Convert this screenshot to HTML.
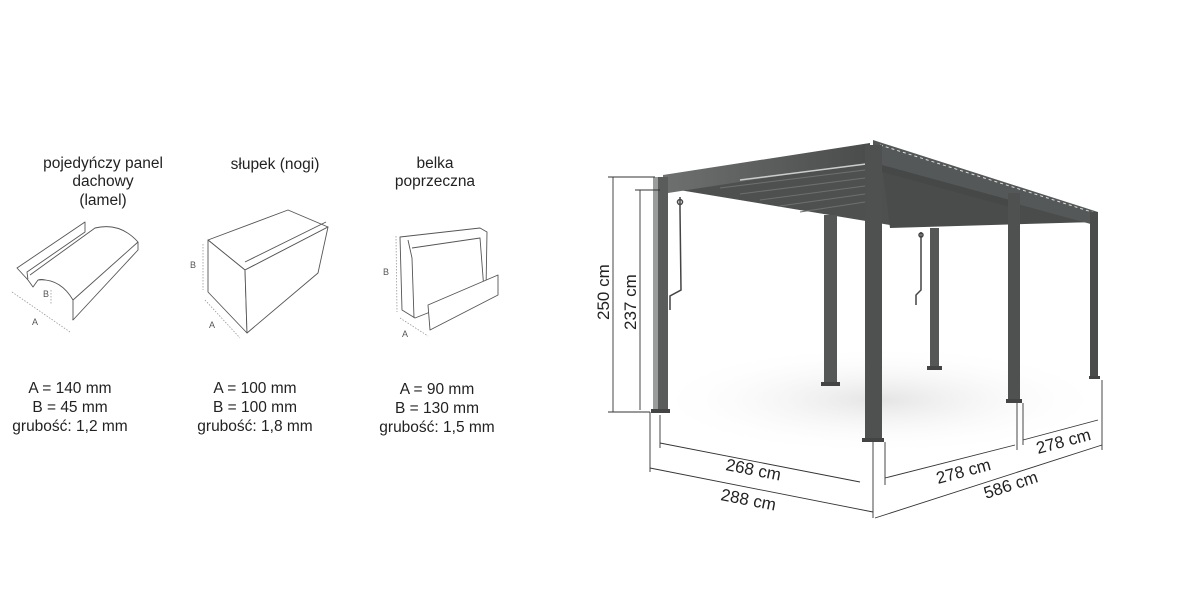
<!DOCTYPE html>
<html><head><meta charset="utf-8"><style>
html,body{margin:0;padding:0;background:#fff;width:1200px;height:600px;overflow:hidden}
svg{display:block}
text{font-family:"Liberation Sans",sans-serif;fill:#222}
</style></head><body>
<svg width="1200" height="600" viewBox="0 0 1200 600" xmlns="http://www.w3.org/2000/svg">
<defs>
<linearGradient id="fb" x1="0" y1="0" x2="1" y2="0"><stop offset="0" stop-color="#6e7070"/><stop offset="1" stop-color="#4a4c4c"/></linearGradient>
<radialGradient id="sh" cx="0.5" cy="0.5" r="0.5"><stop offset="0" stop-color="#e4e4e4"/><stop offset="1" stop-color="#fff" stop-opacity="0"/></radialGradient>
</defs>
<g font-size="15.5" text-anchor="middle">
<text x="103" y="168">pojedyńczy panel</text>
<text x="103" y="186">dachowy</text>
<text x="103" y="205">(lamel)</text>
<text x="275" y="169">słupek (nogi)</text>
<text x="435" y="168">belka</text>
<text x="435" y="186">poprzeczna</text>
<text x="70" y="393">A = 140 mm</text>
<text x="70" y="412">B = 45 mm</text>
<text x="70" y="431">grubość: 1,2 mm</text>
<text x="255" y="393">A = 100 mm</text>
<text x="255" y="412">B = 100 mm</text>
<text x="255" y="431">grubość: 1,8 mm</text>
<text x="437" y="394">A =  90 mm</text>
<text x="437" y="413">B = 130 mm</text>
<text x="437" y="432">grubość: 1,5 mm</text>
</g>
<g fill="#fff" stroke="#555" stroke-width="0.9" stroke-linejoin="round">
<path d="M17,268 L85,222 L85,232 L27,272 L28,280 Z"/>
<path d="M28,280 L33,287 L38,280 Q55,275 73,320 L138,250 L138,242 Q120,222 95,228 L30,275"/>
<path d="M73,320 L73,300 Q60,278 38,280"/>
<path d="M73,300 L138,242" fill="none"/>
<path d="M208,240 L288,210 L328,227 L245,270 Z"/>
<path d="M208,240 L245,270 L247,333 L208,292 Z"/>
<path d="M245,270 L328,227 L318,273 L247,333 Z"/>
<path d="M245,262 L326,222" fill="none"/>
<path d="M400,237 L480,228 L487,232 L486,290 L415,318 L402,310 Z"/>
<path d="M408,240 L412,258 L414,318" fill="none"/>
<path d="M412,248 L480,238 L484,290" fill="none"/>
<path d="M428,305 L498,275 L498,295 L430,330 Z"/>
</g>
<g stroke="#999" stroke-width="0.8" stroke-dasharray="1.5,1.5" fill="none">
<path d="M12,292 L70,332"/><path d="M51,290 L51,305"/>
<path d="M203,244 L203,290"/><path d="M205,300 L240,338"/>
<path d="M396,236 L397,312"/><path d="M400,318 L428,336"/>
</g>
<g font-size="9">
<text x="32" y="325" style="fill:#555">A</text><text x="43" y="297" style="fill:#555">B</text>
<text x="209" y="328" style="fill:#555">A</text><text x="190" y="268" style="fill:#555">B</text>
<text x="402" y="337" style="fill:#555">A</text><text x="383" y="275" style="fill:#555">B</text>
</g>
<ellipse cx="880" cy="400" rx="230" ry="55" fill="url(#sh)"/>
<polygon points="667,188 870,158 1095,222 890,225" fill="#4e5050"/>
<g stroke="#6e7070" stroke-width="1">
<line x1="720" y1="188" x2="865" y2="170"/><line x1="740" y1="194" x2="865" y2="178"/><line x1="760" y1="200" x2="865" y2="186"/><line x1="780" y1="206" x2="865" y2="194"/><line x1="800" y1="212" x2="865" y2="202"/>
</g>
<polygon points="882,165 1095,222 890,228" fill="#4a4c4c"/>
<rect x="824" y="215" width="13" height="170" fill="#555757"/>
<rect x="821" y="382" width="19" height="4" fill="#444"/>
<rect x="930" y="228" width="9" height="140" fill="#555757"/>
<rect x="927" y="366" width="15" height="4" fill="#444"/>
<polygon points="663,175 870,143 870,162 668,193 663,189" fill="url(#fb)"/>
<line x1="740" y1="180" x2="866" y2="164" stroke="#ccc" stroke-width="1.5"/>
<polygon points="873,140 1098,212 1098,226 882,167 873,167" fill="#555858"/>
<path d="M880,145 L1098,214" stroke="#ddd" stroke-width="1" stroke-dasharray="3,3"/>
<polygon points="882,165 1010,200 1010,207 882,172" fill="#464848"/>
<rect x="653" y="177" width="15" height="235" fill="#5a5c5c"/>
<rect x="653" y="177" width="5" height="235" fill="#9a9c9c"/>
<rect x="651" y="409" width="19" height="4" fill="#444"/>
<rect x="865" y="145" width="17" height="297" fill="#4f5151"/>
<rect x="862" y="438" width="22" height="4" fill="#444"/>
<rect x="1008" y="193" width="12" height="209" fill="#4f5151"/>
<rect x="1006" y="399" width="16" height="4" fill="#444"/>
<rect x="1090" y="212" width="8" height="166" fill="#4a4c4c"/>
<rect x="1089" y="376" width="11" height="3" fill="#444"/>
<g stroke="#444" stroke-width="1.5" fill="none">
<path d="M680,197 L680,210 L681,290 L670,296 L670,310"/>
<circle cx="680" cy="202" r="2.5"/>
<path d="M921,232 L921,290 L916,295 L916,305"/>
<circle cx="921" cy="235" r="2"/>
</g>
<g stroke="#333" stroke-width="0.9" fill="none">
<line x1="613" y1="177" x2="613" y2="412"/><line x1="608" y1="177" x2="655" y2="177"/><line x1="608" y1="412" x2="650" y2="412"/>
<line x1="640" y1="190" x2="640" y2="410"/><line x1="635" y1="190" x2="660" y2="190"/>
<line x1="650" y1="412" x2="650" y2="472"/>
<line x1="660" y1="415" x2="660" y2="448"/>
<line x1="873" y1="442" x2="873" y2="518"/>
<line x1="885" y1="442" x2="885" y2="485"/>
<line x1="1017" y1="403" x2="1017" y2="450"/>
<line x1="1023" y1="403" x2="1023" y2="445"/>
<line x1="1102" y1="380" x2="1102" y2="450"/>
<line x1="660" y1="443" x2="860" y2="482"/>
<line x1="650" y1="468" x2="873" y2="512"/>
<line x1="885" y1="478" x2="1015" y2="445"/>
<line x1="875" y1="518" x2="1102" y2="445"/>
<line x1="1023" y1="440" x2="1098" y2="420"/>
</g>
<g font-size="17">
<text transform="translate(609,320) rotate(-90)">250 cm</text>
<text transform="translate(636,330) rotate(-90)">237 cm</text>
<text transform="translate(725,470) rotate(11)">268 cm</text>
<text transform="translate(720,500) rotate(11)">288 cm</text>
<text transform="translate(938,484) rotate(-15)">278 cm</text>
<text transform="translate(986,499) rotate(-18)">586 cm</text>
<text transform="translate(1038,454) rotate(-15)">278 cm</text>
</g>
</svg>
</body></html>
